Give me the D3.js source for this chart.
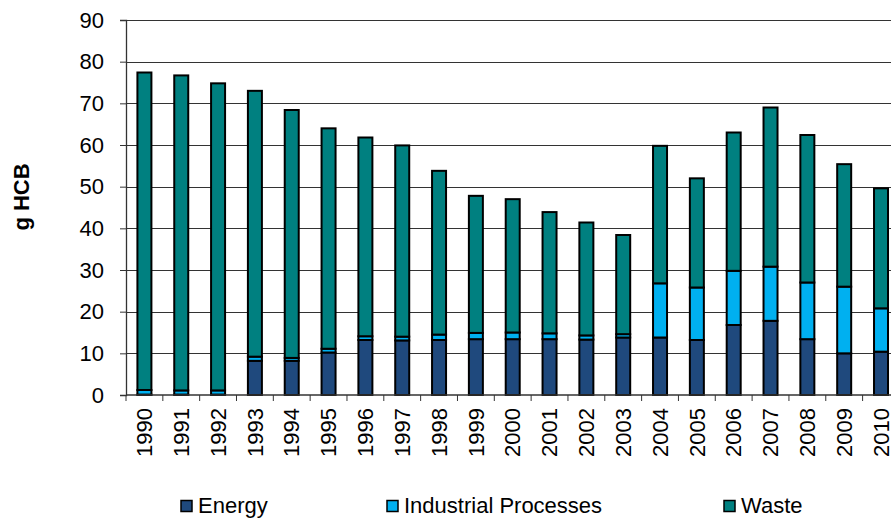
<!DOCTYPE html>
<html>
<head>
<meta charset="utf-8">
<script src="https://cdn.jsdelivr.net/npm/d3@7"></script>
<style>
  html, body { margin: 0; padding: 0; background: #fff; }
  svg { display: block; font-family: "Liberation Sans", Arial, sans-serif; }
</style>
</head>
<body>
<svg id="chart" width="891" height="521"></svg>
<script>
// HCB emissions by sector, grams
const years = ["1990","1991","1992","1993","1994","1995","1996","1997","1998","1999","2000",
               "2001","2002","2003","2004","2005","2006","2007","2008","2009","2010"];
const energy     = [0.1, 0.1, 0.1, 8.2, 8.2, 10.2, 13.2, 13.1, 13.2, 13.4, 13.4,
                    13.4, 13.3, 13.8, 13.8, 13.2, 16.8, 17.8, 13.4, 10.0, 10.4];
const industrial = [1.1, 1.0, 1.0, 1.0, 0.7, 0.9, 0.9, 0.9, 1.3, 1.5, 1.6,
                    1.4, 1.0, 0.8, 13.0, 12.6, 13.0, 13.0, 13.6, 16.0, 10.4];
const total      = [77.4, 76.7, 74.8, 73.0, 68.4, 64.0, 61.8, 59.9, 53.8, 47.8, 47.0,
                    43.9, 41.4, 38.4, 59.8, 52.0, 63.0, 69.0, 62.4, 55.4, 49.6];
const waste = total.map((t, i) => +(t - energy[i] - industrial[i]).toFixed(1));

const seriesNames = ["Energy", "Industrial Processes", "Waste"];
const colors = ["#1F497D", "#00B0F0", "#008080"];
const yTicks = [0, 10, 20, 30, 40, 50, 60, 70, 80, 90];

const rows = years.map((yr, i) => ({
  year: yr, "Energy": energy[i], "Industrial Processes": industrial[i], "Waste": waste[i]
}));

const svg = d3.select("#chart");
const plotLeft = 126, plotTop = 20, plotH = 375;
const step = 36.83;
const plotW = step * years.length;

const x = d3.scaleBand().domain(years).range([plotLeft, plotLeft + plotW]).paddingInner(0.62).paddingOuter(0.31);
const y = d3.scaleLinear().domain([0, 90]).range([plotTop + plotH, plotTop]);

// gridlines
svg.append("g")
  .selectAll("line")
  .data(yTicks.filter(d => d > 0))
  .join("line")
  .attr("x1", plotLeft).attr("x2", plotLeft + plotW)
  .attr("y1", d => Math.round(y(d)) + 0.5).attr("y2", d => Math.round(y(d)) + 0.5)
  .attr("stroke", "#333").attr("stroke-width", 1);

// stacked bars
const stack = d3.stack().keys(seriesNames)(rows);
svg.append("g")
  .selectAll("g")
  .data(stack)
  .join("g")
  .attr("fill", (d, i) => colors[i])
  .selectAll("rect")
  .data(d => d)
  .join("rect")
  .attr("x", d => x(d.data.year))
  .attr("width", x.bandwidth())
  .attr("y", d => y(d[1]))
  .attr("height", d => y(d[0]) - y(d[1]))
  .attr("stroke", "#000")
  .attr("stroke-width", 2);

// y axis
const yAxis = d3.axisLeft(y).tickValues(yTicks).tickSize(6).tickPadding(16).tickFormat(d3.format("d"));
const gy = svg.append("g").attr("transform", `translate(${plotLeft},0)`).call(yAxis);
gy.select(".domain").attr("stroke", "#333").attr("stroke-width", 1.3);
gy.selectAll(".tick line").attr("stroke", "#333");
gy.selectAll(".tick text").attr("font-size", 22).attr("fill", "#000")
  .attr("font-family", "Liberation Sans, Arial, sans-serif");

// x axis: category boundaries as ticks, labels rotated
const gx = svg.append("g").attr("transform", `translate(0,${plotTop + plotH})`);
gx.append("line").attr("x1", plotLeft).attr("x2", plotLeft + plotW).attr("y1", 0).attr("y2", 0)
  .attr("stroke", "#333").attr("stroke-width", 1.3);
gx.selectAll("line.sep")
  .data(d3.range(years.length + 1))
  .join("line").attr("class", "sep")
  .attr("x1", i => plotLeft + i * step).attr("x2", i => plotLeft + i * step)
  .attr("y1", 0).attr("y2", 6)
  .attr("stroke", "#333");
gx.selectAll("text")
  .data(years)
  .join("text")
  .attr("transform", d => `translate(${x(d) + x.bandwidth() / 2},${13}) rotate(-90)`)
  .attr("text-anchor", "end")
  .attr("dy", "0.35em")
  .attr("font-size", 22)
  .text(d => d);

// y axis title
svg.append("text")
  .attr("transform", "translate(29,197) rotate(-90)")
  .attr("text-anchor", "middle")
  .attr("font-size", 22)
  .attr("font-weight", "bold")
  .text("g HCB");

// legend
const legendX = [181, 387, 724];
const lg = svg.append("g");
seriesNames.forEach((name, i) => {
  const lx = legendX[i];
  lg.append("rect").attr("x", lx).attr("y", 500.5).attr("width", 11).attr("height", 11)
    .attr("fill", colors[i]).attr("stroke", "#000").attr("stroke-width", 1.5);
  lg.append("text").attr("x", lx + 17).attr("y", 513).attr("font-size", 22).text(name);
});
</script>
</body>
</html>
